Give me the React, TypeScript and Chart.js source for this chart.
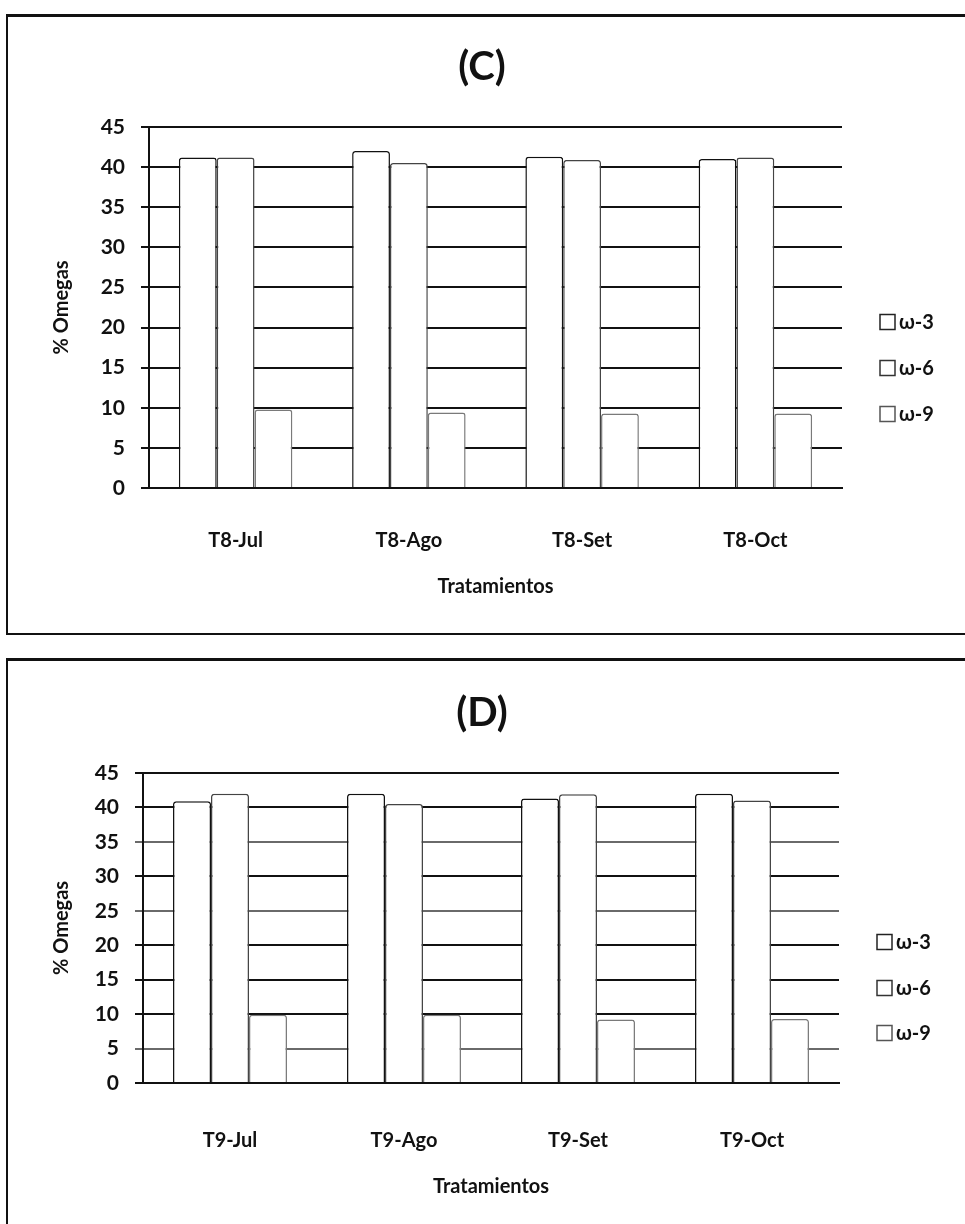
import React, { useEffect, useRef } from "react";
import { Chart, registerables } from "chart.js";

Chart.register(...registerables);

// ---------- data ----------
const seriesLabels = ["ω-3", "ω-6", "ω-9"];

const categoriesC = ["T8-Jul", "T8-Ago", "T8-Set", "T8-Oct"];
const omega3C = [41.2, 42.0, 41.3, 41.0];
const omega6C = [41.2, 40.5, 40.9, 41.2];
const omega9C = [9.8, 9.4, 9.3, 9.3];

const categoriesD = ["T9-Jul", "T9-Ago", "T9-Set", "T9-Oct"];
const omega3D = [40.9, 42.0, 41.3, 42.0];
const omega6D = [42.0, 40.5, 41.9, 41.0];
const omega9D = [9.9, 9.9, 9.2, 9.3];

const yMin = 0;
const yMax = 45;
const yStep = 5;

const titleC = "(C)";
const titleD = "(D)";
const yAxisTitle = "% Omegas";
const xAxisTitle = "Tratamientos";

// ---------- styles ----------
const FONT = "Lato, 'Open Sans', 'DejaVu Sans', sans-serif";
const barBorders = ["#111111", "#444444", "#7a7a7a"];
const legendBorders = ["#222222", "#333333", "#555555"];

type PanelCfg = {
  canvasLeft: number;
  canvasTop: number;
  width: number;
  height: number;
  padLeft: number;
  padTop: number;
  yWidth: number;
  padRight: number;
  titleX: number;
  titleY: number;
  xHeight: number;
  xTickPad: number;
  xTitlePadBottom: number;
  legendRows: number[];
  lightGrid: number[];
};

const legendPlugin = {
  id: "sideLegend",
  afterDraw(chart: any, _args: any, opts: any) {
    const ctx = chart.ctx;
    const rows: number[] = opts.rows || [];
    const sq = 15;
    const x0 = opts.x;
    ctx.save();
    chart.data.datasets.forEach((ds: any, i: number) => {
      const y = rows[i];
      ctx.fillStyle = "#ffffff";
      ctx.strokeStyle = legendBorders[i];
      ctx.lineWidth = 1.5;
      ctx.fillRect(x0, y - sq / 2, sq, sq);
      ctx.strokeRect(x0, y - sq / 2, sq, sq);
      ctx.fillStyle = "#111111";
      ctx.font = "bold 20px " + FONT;
      ctx.textBaseline = "middle";
      ctx.textAlign = "left";
      ctx.fillText(ds.label, x0 + sq + 4, y + 1);
    });
    ctx.restore();
  },
};

const bigTitlePlugin = {
  id: "bigTitle",
  afterDraw(chart: any, _args: any, opts: any) {
    const ctx = chart.ctx;
    ctx.save();
    ctx.fillStyle = "#111111";
    ctx.font = "bold 40px " + FONT;
    ctx.textAlign = "center";
    ctx.textBaseline = "middle";
    ctx.fillText(opts.text, opts.x, opts.y);
    ctx.restore();
  },
};

function Panel(props: {
  cfg: PanelCfg;
  title: string;
  categories: string[];
  s3: number[];
  s6: number[];
  s9: number[];
}) {
  const ref = useRef<HTMLCanvasElement | null>(null);
  const { cfg } = props;
  useEffect(() => {
    if (!ref.current) return;
    const values = [props.s3, props.s6, props.s9];
    const chart = new Chart(ref.current, {
      type: "bar",
      data: {
        labels: props.categories,
        datasets: seriesLabels.map((label, i) => ({
          label,
          data: values[i],
          backgroundColor: "#ffffff",
          borderColor: barBorders[i],
          borderWidth: 1.5,
          borderRadius: 3,
          categoryPercentage: 0.655,
          barPercentage: 1.0,
        })),
      },
      options: {
        responsive: false,
        animation: false,
        devicePixelRatio: 1,
        layout: {
          padding: { left: cfg.padLeft, right: cfg.padRight, top: cfg.padTop, bottom: 0 },
        },
        plugins: {
          legend: { display: false },
          tooltip: { enabled: false },
          title: { display: false },
          bigTitle: { text: props.title, x: cfg.titleX, y: cfg.titleY },
          sideLegend: {
            x: cfg.width - cfg.padRight + 38,
            rows: cfg.legendRows,
          },
        } as any,
        scales: {
          x: {
            grid: { display: false },
            border: { display: true, color: "#111111", width: 2 },
            ticks: {
              color: "#111111",
              font: { family: FONT, size: 20, weight: "bold" },
              padding: cfg.xTickPad,
              maxRotation: 0,
            },
            title: {
              display: true,
              text: xAxisTitle,
              color: "#111111",
              font: { family: FONT, size: 20, weight: "bold", lineHeight: 1.2 },
              padding: { top: 0, bottom: cfg.xTitlePadBottom },
            },
            afterFit: (scale: any) => {
              scale.height = cfg.xHeight;
            },
          },
          y: {
            min: yMin,
            max: yMax,
            ticks: {
              stepSize: yStep,
              color: "#111111",
              font: { family: FONT, size: 21, weight: "bold" },
              padding: 16,
            },
            grid: {
              color: (c: any) =>
                c.tick && cfg.lightGrid.includes(c.tick.value) ? "#6a6a6a" : "#111111",
              lineWidth: 2,
              drawTicks: true,
              tickLength: 8,
            },
            border: { display: true, color: "#111111", width: 2 },
            title: {
              display: true,
              text: yAxisTitle,
              color: "#111111",
              font: { family: FONT, size: 20, weight: "bold", lineHeight: 1.2 },
              padding: { top: 12, bottom: 0 },
            },
            afterFit: (scale: any) => {
              scale.width = cfg.yWidth;
            },
          },
        },
      } as any,
      plugins: [legendPlugin as any, bigTitlePlugin as any],
    });
    return () => chart.destroy();
  }, []);
  return (
    <canvas
      ref={ref}
      width={cfg.width}
      height={cfg.height}
      style={{
        position: "absolute",
        left: cfg.canvasLeft,
        top: cfg.canvasTop,
        width: cfg.width,
        height: cfg.height,
      }}
    />
  );
}

const cfgC: PanelCfg = {
  canvasLeft: 10,
  canvasTop: 17,
  width: 955,
  height: 614,
  padLeft: 28,
  padTop: 110,
  yWidth: 111,
  padRight: 123,
  titleX: 472,
  titleY: 50,
  xHeight: 143,
  xTickPad: 33,
  xTitlePadBottom: 32,
  legendRows: [305, 351, 397],
  lightGrid: [],
};

const cfgD: PanelCfg = {
  canvasLeft: 10,
  canvasTop: 662,
  width: 955,
  height: 562,
  padLeft: 28,
  padTop: 111,
  yWidth: 105,
  padRight: 126,
  titleX: 472,
  titleY: 51,
  xHeight: 141,
  xTickPad: 38,
  xTitlePadBottom: 25,
  legendRows: [280, 326, 371],
  lightGrid: [35, 25, 5],
};

export default function App() {
  return (
    <div
      style={{
        position: "absolute",
        left: 0,
        top: 0,
        width: 965,
        height: 1224,
        overflow: "hidden",
        background: "#ffffff",
      }}
    >
      <div
        style={{
          position: "absolute",
          left: 6,
          top: 14,
          width: 1000,
          height: 616,
          borderTop: "3px solid #111",
          borderLeft: "2px solid #111",
          borderBottom: "2px solid #111",
        }}
      />
      <div
        style={{
          position: "absolute",
          left: 6,
          top: 658,
          width: 1000,
          height: 700,
          borderTop: "3px solid #111",
          borderLeft: "2px solid #111",
        }}
      />
      <Panel cfg={cfgC} title={titleC} categories={categoriesC} s3={omega3C} s6={omega6C} s9={omega9C} />
      <Panel cfg={cfgD} title={titleD} categories={categoriesD} s3={omega3D} s6={omega6D} s9={omega9D} />
    </div>
  );
}
